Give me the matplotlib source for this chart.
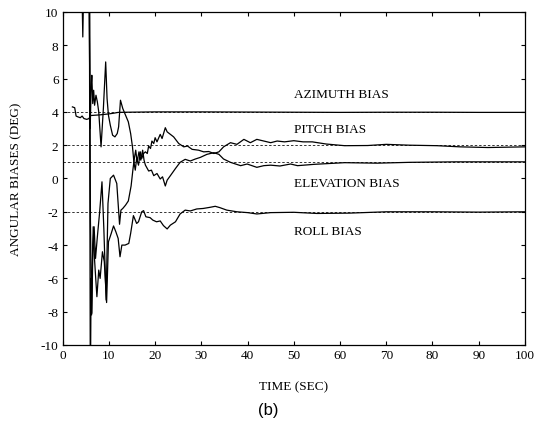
import numpy as np
import matplotlib
matplotlib.use("Agg")
import matplotlib.pyplot as plt

plt.rcParams['font.family'] = ['Liberation Serif', 'DejaVu Serif']
plt.rcParams['axes.unicode_minus'] = False

# ── Data (time in s, bias in deg) ──────────────────────────────────────────
AZ_T = [2.1, 2.6, 2.9, 3.3, 3.8, 4.2, 4.6, 5.2, 5.7, 6.0, 7, 8, 9, 10, 11, 12,
        14, 20, 30, 40, 50, 60, 70, 80, 90, 100]
AZ_V = [4.3, 4.25, 3.75, 3.7, 3.65, 3.75, 3.6, 3.55, 3.6, 3.78, 3.8, 3.82, 3.85,
        3.88, 3.92, 3.97, 3.98, 4.0, 4.0, 3.99, 3.98, 3.97, 3.98, 3.98, 3.97, 3.97]

PITCH_T = [4.0, 4.35, 4.7, 5.6, 5.95, 6.15, 6.3, 6.5, 6.7, 6.9, 7.2, 7.5, 7.8,
           8.3, 8.8, 9.3, 9.6, 9.9, 10.3, 10.8, 11.3, 11.8, 12.1, 12.5, 13.0,
           13.6, 14.2, 14.7, 15.1, 15.4, 15.7, 16.0, 16.4, 16.8, 17.1, 17.5,
           17.9, 18.3, 18.6, 19.0, 19.3, 19.7, 20.0, 20.4, 21.1, 21.5, 22.2,
           22.6, 23.3, 24.0, 25.1, 26.2, 27.0, 28.0, 29.4, 30.5, 31.6, 32.7,
           33.8, 34.8, 36.3, 37.7, 39.2, 40.6, 42, 43.5, 45, 46.4, 48, 50, 52,
           54, 57, 61, 66, 70, 75, 81, 86, 92, 96, 100]
PITCH_V = [14, 8.5, 14, 14, 3.0, 5.5, 6.2, 4.5, 5.3, 4.4, 5.0, 4.6, 4.0,
           1.9, 4.2, 7.0, 4.8, 3.8, 3.2, 2.6, 2.5, 2.7, 3.1, 4.7, 4.2,
           3.8, 3.4, 2.7, 1.9, 1.0, 0.5, 1.2, 0.8, 1.6, 1.2, 1.5,
           1.6, 1.5, 1.95, 1.8, 2.25, 2.1, 2.45, 2.2, 2.65, 2.4, 3.05,
           2.8, 2.65, 2.5, 2.1, 1.9, 1.95, 1.75, 1.7, 1.6, 1.62, 1.5,
           1.6, 1.9, 2.15, 2.05, 2.35, 2.15, 2.35, 2.25, 2.15, 2.25, 2.2, 2.27,
           2.2, 2.2, 2.07, 1.97, 1.98, 2.05, 2.0, 1.97, 1.9, 1.86, 1.88, 1.9]

ELEV_T = [5.8, 6.0, 6.25, 6.5, 6.8, 7.1, 7.5, 8.0, 8.5, 8.9, 9.4, 9.8, 10.3,
          11.0, 11.7, 12.3, 12.6, 13.0, 13.6, 14.2, 14.8, 15.2, 15.5, 15.8,
          16.1, 16.5, 16.9, 17.3, 17.6, 17.9, 18.6, 19.2, 19.7, 20.4, 21.1,
          21.6, 22.2, 22.6, 23.3, 24.4, 25.4, 26.5, 27.6, 28.7, 29.8, 31.2,
          32.7, 33.8, 34.8, 36.3, 38.5, 39.9, 42, 43.5, 45, 47, 49.3, 50.8,
          54.4, 61, 68, 75, 85, 100]
ELEV_V = [14, -2.5, -8.2, -4.0, -2.9, -4.8, -3.5, -2.0, -0.2, -3.0, -7.3, -1.5,
          0.0, 0.2, -0.3, -2.75, -1.9, -1.8, -1.6, -1.35, -0.45, 0.55, 1.2, 1.7,
          1.0, 1.6, 1.1, 1.7, 1.1, 0.8, 0.45, 0.5, 0.17, 0.3, -0.03,
          0.1, -0.45, -0.1, 0.17, 0.6, 0.97, 1.15, 1.05, 1.17, 1.27, 1.45,
          1.55, 1.45, 1.17, 0.97, 0.77, 0.87, 0.67, 0.77, 0.8, 0.75, 0.87, 0.77,
          0.85, 0.95, 0.92, 0.97, 1.0, 1.0]

ROLL_T = [5.75, 5.98, 6.15, 6.3, 6.6, 6.9, 7.1, 7.4, 7.8, 8.1, 8.6, 9.0, 9.5,
          9.9, 10.5, 11.0, 11.5, 12.0, 12.4, 12.8, 13.5, 14.3, 14.7, 15.3,
          16.0, 16.4, 17.1, 17.5, 18.0, 18.9, 19.5, 20.3, 21.1, 21.8, 22.6,
          23.3, 24.4, 25.4, 26.5, 27.6, 29, 30.4, 31.9, 33, 34, 35.5, 37.7,
          40, 42, 45, 50, 55, 62, 70, 80, 90, 100]
ROLL_V = [14, -13, -6.0, -8.1, -2.9, -4.9, -5.8, -7.1, -5.5, -6.0, -4.4, -5.0,
          -7.45, -3.8, -3.3, -2.85, -3.2, -3.6, -4.7, -4.0, -4.0, -3.9, -3.3,
          -2.23, -2.7, -2.6, -2.0, -1.93, -2.3, -2.35, -2.5, -2.6, -2.55, -2.83,
          -3.03, -2.8, -2.6, -2.13, -1.9, -1.95, -1.83, -1.8, -1.73, -1.67,
          -1.75, -1.9, -2.0, -2.05, -2.13, -2.05, -2.03, -2.1, -2.08, -2.0,
          -2.0, -2.02, -2.0]

TRUE_BIAS = [4.0, 2.0, 1.0, -2.0]
LABELS = ['AZIMUTH BIAS', 'PITCH BIAS', 'ELEVATION BIAS', 'ROLL BIAS']
LABEL_Y = [5.07, 2.97, -0.25, -3.14]
LABEL_X = 50.0


fig = plt.figure(figsize=(5.34, 4.27), dpi=100)
ax = fig.add_axes([0.1174, 0.1897, 0.8656, 0.7799])

# true values as fine dashed lines
for b in TRUE_BIAS:
    ax.axhline(b, color='#333333', lw=0.7, ls=(0, (2.5, 2.0)), zorder=1)

for t, v in [(AZ_T, AZ_V), (PITCH_T, PITCH_V), (ELEV_T, ELEV_V), (ROLL_T, ROLL_V)]:
    ax.plot(t, v, color='black', lw=0.9, zorder=2)

for txt, y in zip(LABELS, LABEL_Y):
    ax.text(LABEL_X, y, txt, fontsize=9.5, ha='left', va='center')

ax.set_xlim(0, 100)
ax.set_ylim(-10, 10)
ax.set_xticks(np.arange(0, 101, 10))
ax.set_yticks(np.arange(-10, 11, 2))
ax.tick_params(direction='in', length=3, width=0.8, top=True, right=True,
               labelsize=9.5, pad=3)
for s in ax.spines.values():
    s.set_linewidth(0.9)

ax.set_xlabel('TIME (SEC)', fontsize=9.5, labelpad=14)
ax.set_ylabel('ANGULAR BIASES (DEG)', fontsize=9.5, labelpad=13)

fig.text(268 / 534, 1 - 410.5 / 427, '(b)', fontsize=12, ha='center', va='center',
         family='Liberation Sans')

fig.savefig('out.png', dpi=100)
